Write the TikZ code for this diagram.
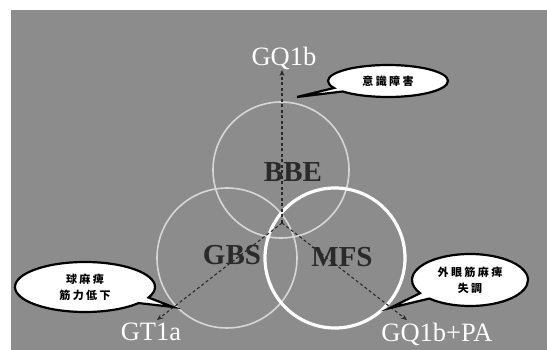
\documentclass[tikz,border=0pt]{standalone}
\usepackage{fontspec}
\setmainfont{Liberation Serif}
\newfontfamily\cjk[LetterSpace=22]{Noto Sans CJK JP}
\usetikzlibrary{shapes.callouts,arrows.meta}
\definecolor{bggray}{HTML}{8C8C8C}
\definecolor{darktext}{HTML}{2A2A2A}
\definecolor{ringgray}{HTML}{D6D6D6}
\tikzset{
  ring/.style={circle,draw=ringgray,line width=1.6pt,minimum size=#1,inner sep=0pt},
  whitering/.style={circle,draw=white,line width=3.2pt,minimum size=#1,inner sep=0pt},
  setlabel/.style={text=darktext,font=\fontsize{29}{29}\selectfont\bfseries},
  antibody/.style={text=white,font=\fontsize{26.5}{26.5}\selectfont},
  dasharrow/.style={draw=darktext,line width=1.1pt,dash pattern=on 3pt off 2.5pt,-{Stealth[length=6pt,width=5pt]}},
  bubble/.style={ellipse callout,draw=black,line width=2.2pt,fill=white,text=black,
    font=\cjk\fontsize{11}{16}\selectfont\bfseries,align=center,inner sep=0pt}
}
\begin{document}
\begin{tikzpicture}[x=1pt,y=-1pt]
\useasboundingbox (0,0) rectangle (547,350);
\fill[white] (0,0) rectangle (547,350);
\fill[bggray] (11,10) rectangle (547,350);
% circles
\node[ring=136pt] (bbe) at (281,170) {};
\node[ring=140pt] (gbs) at (227,258) {};
\node[whitering=140pt] (mfs) at (335,258) {};
% centre and arrow ends
\coordinate (c) at (282,223);
\coordinate (up) at (282,70);
\coordinate (dl) at (157,320);
\coordinate (dr) at (407,320);
\draw[dasharrow] (c) -- (up);
\draw[dasharrow] (c) -- (dl);
\draw[dasharrow] (c) -- (dr);
% set labels
\node[setlabel] (lbbe) at (293,172) {BBE};
\node[setlabel] (lgbs) at (232,255) {GBS};
\node[setlabel] (lmfs) at (342,257) {MFS};
% antibody labels
\node[antibody] (gq) at (284,58) {GQ1b};
\node[antibody] (gt) at (151,332) {GT1a};
\node[antibody] (gqpa) at (437,334) {GQ1b+PA};
% callouts
\node[bubble,minimum width=120pt,minimum height=32pt,callout absolute pointer={(297,97)}] (b1) at (388,81) {意識障害};
\node[bubble,minimum width=140pt,minimum height=50pt,callout absolute pointer={(173,307)}] (b2) at (85,287) {球麻痺\\筋力低下};
\node[bubble,minimum width=116pt,minimum height=52pt,callout absolute pointer={(390,308)}] (b3) at (470,280) {外眼筋麻痺\\失調};
\end{tikzpicture}
\end{document}
